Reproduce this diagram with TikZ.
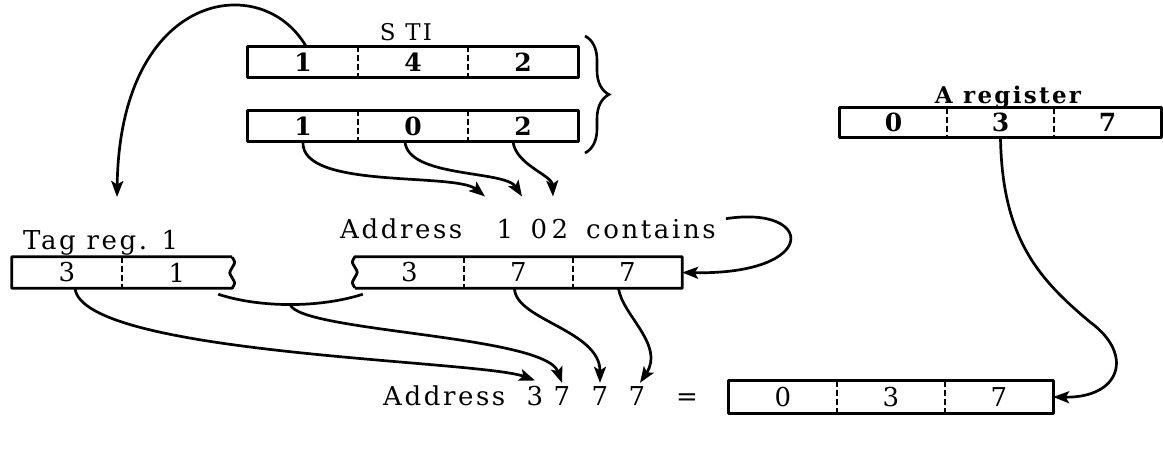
\documentclass[tikz,border=0pt]{standalone}
\usepackage{fontspec}
\setmainfont{DejaVu Serif}
\newfontfamily\spacedfont{DejaVu Serif}[LetterSpace=10]
\usetikzlibrary{arrows.meta,decorations.pathreplacing}
\tikzset{
    reg-cell/.style = {minimum width=110pt, minimum height=31pt, inner sep=0pt, font=\fontsize{26}{30}\selectfont},
    reg-cell-bold/.style = {reg-cell, font=\fontsize{25}{30}\selectfont\bfseries},
    reg-frame/.style = {draw=black, line width=2.8pt, line join=round},
    reg-divider/.style = {line width=1.6pt, dash pattern=on 6pt off 3pt},
    reg-title/.style = {inner sep=0pt, anchor=base, font=\spacedfont\fontsize{23}{27}\selectfont},
    caption/.style = {inner sep=0pt, anchor=base west, font=\spacedfont\fontsize{26}{30}\selectfont},
    caption-digit/.style = {inner sep=0pt, anchor=base, font=\fontsize{26}{30}\selectfont},
    flow-arrow/.style = {line width=2.7pt, -{Stealth[length=16pt,width=12pt,inset=3.5pt]}},
    wire/.style = {line width=2.7pt},
}

\begin{document}
\begin{tikzpicture}[x=1pt, y=1pt]
\useasboundingbox (0,0) rectangle (1163,-450);

\node[reg-title] (sti-title) at (406,-40) {S TI};
\node[reg-cell-bold] (s1) at (303,-62) {1};
\node[reg-cell-bold] (s2) at (413,-62) {4};
\node[reg-cell-bold] (s3) at (523,-62) {2};
\node[reg-cell-bold] (b1) at (303,-126) {1};
\node[reg-cell-bold] (b2) at (413,-126) {0};
\node[reg-cell-bold] (b3) at (523,-126) {2};
\draw[reg-frame] (s1.north west) rectangle (s3.south east);
\draw[reg-frame] (b1.north west) rectangle (b3.south east);
\draw[line width=2.6pt, decorate, decoration={brace, amplitude=24pt}] (585,-36) -- (585,-153);

\node[reg-title, font=\spacedfont\fontsize{23}{27}\selectfont\bfseries] (a-title) at (1008,-103) {A register};
\node[reg-cell-bold, minimum width=107pt, minimum height=29pt] (a1) at (893.5,-122.5) {0};
\node[reg-cell-bold, minimum width=107pt, minimum height=29pt] (a2) at (1000.5,-122.5) {3};
\node[reg-cell-bold, minimum width=107pt, minimum height=29pt] (a3) at (1107.5,-122.5) {7};
\draw[reg-frame] (a1.north west) rectangle (a3.south east);

\node[caption] (addr-one) at (340,-238) {Address};
\node[caption-digit] (n1) at (505,-238) {1};
\node[caption-digit] (n0) at (539,-238) {0};
\node[caption-digit] (n2) at (560,-238) {2};
\node[caption] (contains) at (586,-238) {contains};

\node[caption] (tag-title) at (23,-249) {Tag reg. 1};
\node[reg-cell] (t1) at (67,-272.5) {3};
\node[reg-cell] (t2) at (177,-272.5) {1};
\draw[reg-frame] (t2.north east) -- (t1.north west) -- (t1.south west) -- (t2.south east)
    to[out=60,in=-60,looseness=1.6] ++(0,10.33) to[out=120,in=240,looseness=1.6] ++(0,10.33)
    to[out=60,in=-60,looseness=1.6] ++(0,10.34);

\node[reg-cell, minimum width=109pt] (m1) at (409.5,-272.5) {3};
\node[reg-cell, minimum width=109pt] (m2) at (518.5,-272.5) {7};
\node[reg-cell, minimum width=109pt] (m3) at (627.5,-272.5) {7};
\draw[reg-frame] (m1.south west) -- (m3.south east) -- (m3.north east) -- (m1.north west)
    to[out=-120,in=120,looseness=1.6] ++(0,-10.33) to[out=-60,in=60,looseness=1.6] ++(0,-10.33)
    to[out=-120,in=120,looseness=1.6] ++(0,-10.34);

\node[caption] (addr-two) at (383,-405) {Address};
\node[caption-digit] (q3) at (535,-405) {3};
\node[caption-digit] (q7a) at (562,-405) {7};
\node[caption-digit] (q7b) at (600,-405) {7};
\node[caption-digit] (q7c) at (637,-405) {7};
\node[caption-digit] (equals) at (687,-405) {=};
\node[reg-cell, minimum width=108pt, minimum height=32pt] (r1) at (783,-397) {0};
\node[reg-cell, minimum width=108pt, minimum height=32pt] (r2) at (891,-397) {3};
\node[reg-cell, minimum width=108pt, minimum height=32pt] (r3) at (999,-397) {7};
\draw[reg-frame] (r1.north west) rectangle (r3.south east);

\foreach \cell in {s1,s2,b1,b2,a1,a2,t1,m1,m2,r1,r2}
    \draw[reg-divider] (\cell.north east) -- (\cell.south east);

\coordinate (tag-in) at (117,-197);
\draw[flow-arrow] ([xshift=3pt]s1.north) .. controls (262,30) and (120,10) .. (tag-in);
\draw[flow-arrow] (b1.south) .. controls (300,-190) and (455,-172) .. ([xshift=-20pt,yshift=22pt]n1.north);
\draw[flow-arrow] ([xshift=-8pt]b2.south) .. controls (408,-178) and (505,-170) .. ([xshift=-17pt,yshift=22pt]n0.north);
\draw[flow-arrow] ([xshift=-10pt]b3.south) .. controls (516,-165) and (552,-175) .. ([xshift=-7pt,yshift=22pt]n2.north);
\draw[flow-arrow] ([xshift=10pt]contains.north east) .. controls (815,-205) and (820,-275) .. (m3.east);

\draw[wire] ([shift={(-14pt,-6pt)}]t2.south east) .. controls (260,-308) and (320,-308) .. ([shift={(8pt,-6pt)}]m1.south west) coordinate[pos=0.5] (join);
\draw[flow-arrow] (join) .. controls (300,-332) and (545,-335) .. ([yshift=3pt]q7a.north);
\draw[flow-arrow] ([xshift=8pt]t1.south) .. controls (82,-355) and (480,-360) .. ([yshift=5pt]q3.north);
\draw[flow-arrow] ([xshift=-4pt]m2.south) .. controls (515,-320) and (600,-330) .. ([yshift=3pt]q7b.north);
\draw[flow-arrow] ([xshift=-9pt]m3.south) .. controls (622,-315) and (665,-345) .. ([xshift=3pt,yshift=3pt]q7c.north);

\draw[flow-arrow] (a2.south) .. controls (1002,-240) and (1040,-280) .. (1090,-322)
    .. controls (1135,-355) and (1120,-398) .. (r3.east);
\end{tikzpicture}
\end{document}
